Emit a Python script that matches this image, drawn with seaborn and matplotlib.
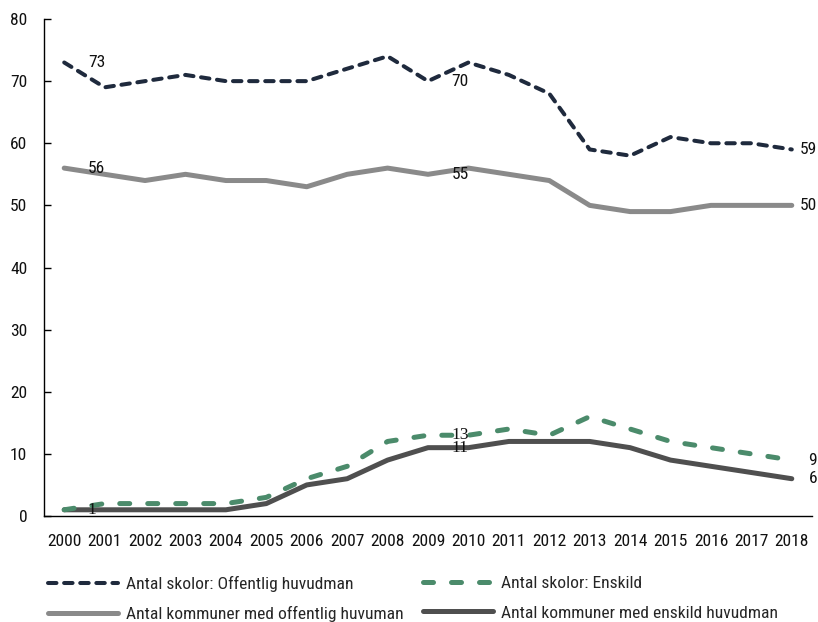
import matplotlib
matplotlib.use("Agg")
import matplotlib.pyplot as plt
import seaborn as sns
import pandas as pd

years = list(range(2000, 2019))
skolor_offentlig = [73, 69, 70, 71, 70, 70, 70, 72, 74, 70, 73, 71, 68, 59, 58, 61, 60, 60, 59]
skolor_enskild = [1, 2, 2, 2, 2, 3, 6, 8, 12, 13, 13, 14, 13, 16, 14, 12, 11, 10, 9]
kommuner_offentlig = [56, 55, 54, 55, 54, 54, 53, 55, 56, 55, 56, 55, 54, 50, 49, 49, 50, 50, 50]
kommuner_enskild = [1, 1, 1, 1, 1, 2, 5, 6, 9, 11, 11, 12, 12, 12, 11, 9, 8, 7, 6]

labels = ["Antal skolor: Offentlig huvudman", "Antal skolor: Enskild",
          "Antal kommuner med offentlig huvuman", "Antal kommuner med enskild huvudman"]
y_ticks = [0, 10, 20, 30, 40, 50, 60, 70, 80]

sns.set_style("white")
FONT = ["Roboto Condensed", "Archivo Narrow", "DejaVu Sans"]
plt.rcParams["font.family"] = FONT
FS = 12.6
plt.rcParams["font.size"] = FS

fig = plt.figure(figsize=(8.18, 6.22), dpi=100)
ax = fig.add_axes([44 / 818, 1 - 516 / 622, (812 - 44) / 818, (516 - 19) / 622])

df = pd.DataFrame({"year": years, "so": skolor_offentlig, "se": skolor_enskild,
                   "ko": kommuner_offentlig, "ke": kommuner_enskild})

navy = "#1f2a3d"
green = "#4b8b6b"
gray = "#8a8a8a"
dgray = "#4f4f4f"

sns.lineplot(data=df, x="year", y="ko", ax=ax, color=gray, lw=3.6, label=labels[2],
             solid_capstyle="round")
sns.lineplot(data=df, x="year", y="ke", ax=ax, color=dgray, lw=3.6, label=labels[3],
             solid_capstyle="round")
sns.lineplot(data=df, x="year", y="so", ax=ax, color=navy, lw=2.9, label=labels[0],
             linestyle=(0, (2.1, 1.9)), dash_capstyle="round")
sns.lineplot(data=df, x="year", y="se", ax=ax, color=green, lw=3.6, label=labels[1],
             linestyle=(0, (2.0, 3.6)), dash_capstyle="round")

ax.set_xlim(years[0] - 0.5, years[-1] + 0.5)
ax.set_ylim(0, 80)
ax.set_xlabel("")
ax.set_ylabel("")
ax.set_yticks(y_ticks)
ax.set_yticklabels([str(v) for v in y_ticks])
ax.set_xticks([y - 0.5 for y in years] + [years[-1] + 0.5])
ax.set_xticklabels([])
ax.set_xticks(years, minor=True)
ax.set_xticklabels([str(y) for y in years], minor=True)
ax.tick_params(axis="x", which="major", direction="inout", length=10, width=1, color="black")
ax.tick_params(axis="x", which="minor", length=0, pad=13, labelsize=FS, labelcolor="#111111")
ax.tick_params(axis="y", direction="in", length=5, width=1, color="black", pad=12,
               labelsize=FS, labelcolor="#111111", left=True)
for s in ["top", "right"]:
    ax.spines[s].set_visible(False)
for s in ["left", "bottom"]:
    ax.spines[s].set_color("black")
    ax.spines[s].set_linewidth(1)
ax.grid(False)

# data labels
def lab(x, y, dx, family=FONT):
    ax.annotate(str(y), xy=(x, y), xytext=(dx, 0), textcoords="offset points",
                ha="left", va="center", fontsize=FS, color="#111111", family=family)

serif = ["Liberation Serif", "DejaVu Serif"]
i0, i9, i18 = 0, 9, 18
lab(years[i0], skolor_offentlig[i0], 17)
lab(years[i0], kommuner_offentlig[i0], 17)
lab(years[i0], kommuner_enskild[i0], 17, serif)
lab(years[i9], skolor_offentlig[i9], 17)
lab(years[i9], kommuner_offentlig[i9], 17)
lab(years[i9], skolor_enskild[i9], 17, serif)
lab(years[i9], kommuner_enskild[i9], 17, serif)
lab(years[i18], skolor_offentlig[i18], 6)
lab(years[i18], kommuner_offentlig[i18], 6)
lab(years[i18], skolor_enskild[i18], 12)
lab(years[i18], kommuner_enskild[i18], 12)

# legends
lines = {l.get_label(): l for l in ax.get_lines()}
if ax.get_legend() is not None:
    ax.get_legend().remove()
fig.legend([lines[labels[0]], lines[labels[2]]], [labels[0], labels[2]],
           loc="upper left", bbox_to_anchor=(48 / 818, 1 - 576 / 622),
           frameon=False, handlelength=4.0, handletextpad=0.45, borderpad=0,
           borderaxespad=0, labelspacing=0.8, fontsize=FS)
fig.legend([lines[labels[1]], lines[labels[3]]], [labels[1], labels[3]],
           loc="upper left", bbox_to_anchor=(423 / 818, 1 - 576 / 622),
           frameon=False, handlelength=4.0, handletextpad=0.45, borderpad=0,
           borderaxespad=0, labelspacing=0.8, fontsize=FS)

fig.savefig("out.png", dpi=100)
